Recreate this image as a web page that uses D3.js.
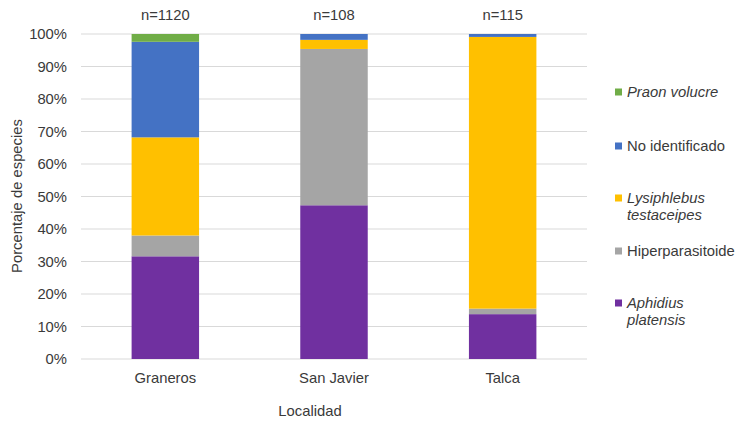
<!DOCTYPE html>
<html>
<head>
<meta charset="utf-8">
<script src="https://cdn.jsdelivr.net/npm/d3@7"></script>
<style>
body { margin: 0; background: #fff; }
text { font-family: "Liberation Sans", Arial, sans-serif; fill: #3a3a3a; }
</style>
</head>
<body>
<div id="chart"></div>
<script>
(function(){
    var width = 738, height = 421;
    var fs = 14.8;

    // data (percent per site)
    var sites = ["Graneros", "San Javier", "Talca"];
    var nLabels = ["n=1120", "n=108", "n=115"];
    var species = ["Aphidius platensis", "Hiperparasitoide", "Lysiphlebus testaceipes", "No identificado", "Praon volucre"];
    var aphidius = [31.6, 47.3, 13.8];
    var hiper = [6.4, 48.1, 1.7];
    var lysiphlebus = [30.2, 2.8, 83.6];
    var noIdent = [29.4, 1.8, 0.9];
    var praon = [2.4, 0, 0];
    var yTicks = [0, 10, 20, 30, 40, 50, 60, 70, 80, 90, 100];
    var colors = ["#7030A0", "#A5A5A5", "#FFC000", "#4472C4", "#70AD47"];

    var rows = sites.map(function(s, i){
        return { site: s, a: aphidius[i], h: hiper[i], l: lysiphlebus[i], n: noIdent[i], p: praon[i] };
    });
    var keys = ["a", "h", "l", "n", "p"];

    var svg = d3.select("#chart").append("svg")
        .attr("width", width)
        .attr("height", height);

    var x = d3.scaleBand().domain(sites).range([81, 587]).paddingInner(0.6).paddingOuter(0.3);
    var y = d3.scaleLinear().domain([0, 100]).range([359, 34]);

    // gridlines
    svg.append("g").selectAll("line")
        .data(yTicks)
        .enter().append("line")
        .attr("x1", 81).attr("x2", 587)
        .attr("y1", function(d){ return y(d); })
        .attr("y2", function(d){ return y(d); })
        .attr("stroke", "#d9d9d9")
        .attr("stroke-width", 1);

    // y tick labels
    svg.append("g").selectAll("text")
        .data(yTicks)
        .enter().append("text")
        .attr("x", 67)
        .attr("y", function(d){ return y(d); })
        .attr("dy", "0.35em")
        .attr("text-anchor", "end")
        .attr("font-size", fs)
        .text(function(d){ return d + "%"; });

    var stack = d3.stack().keys(keys)(rows);

    svg.append("g").selectAll("g")
        .data(stack)
        .enter().append("g")
        .attr("fill", function(d, i){ return colors[i]; })
        .selectAll("rect")
        .data(function(d){ return d; })
        .enter().append("rect")
        .attr("x", function(d){ return x(d.data.site); })
        .attr("width", x.bandwidth())
        .attr("y", function(d){ return y(d[1]); })
        .attr("height", function(d){ return y(d[0]) - y(d[1]); });

    // n labels
    svg.append("g").selectAll("text")
        .data(sites)
        .enter().append("text")
        .attr("x", function(d){ return x(d) + x.bandwidth()/2; })
        .attr("y", 15)
        .attr("dy", "0.35em")
        .attr("text-anchor", "middle")
        .attr("font-size", fs)
        .text(function(d, i){ return nLabels[i]; });

    // category labels
    svg.append("g").selectAll("text")
        .data(sites)
        .enter().append("text")
        .attr("x", function(d){ return x(d) + x.bandwidth()/2; })
        .attr("y", 378)
        .attr("dy", "0.35em")
        .attr("text-anchor", "middle")
        .attr("font-size", fs)
        .text(function(d){ return d; });

    svg.append("text")
        .attr("x", 310).attr("y", 411)
        .attr("dy", "0.35em")
        .attr("text-anchor", "middle")
        .attr("font-size", fs)
        .text("Localidad");

    svg.append("text")
        .attr("transform", "translate(17,196) rotate(-90)")
        .attr("dy", "0.35em")
        .attr("text-anchor", "middle")
        .attr("font-size", fs)
        .text("Porcentaje de especies");

    // legend, top to bottom
    var legend = [
        { i: 4, lines: ["Praon volucre"], italic: true, y: 92 },
        { i: 3, lines: ["No identificado"], italic: false, y: 146 },
        { i: 2, lines: ["Lysiphlebus", "testaceipes"], italic: true, y: 198 },
        { i: 1, lines: ["Hiperparasitoide"], italic: false, y: 251 },
        { i: 0, lines: ["Aphidius", "platensis"], italic: true, y: 303 }
    ];
    var lg = svg.append("g").selectAll("g")
        .data(legend)
        .enter().append("g")
        .attr("transform", function(d){ return "translate(615," + d.y + ")"; });
    lg.append("rect")
        .attr("x", 0).attr("y", -3.5)
        .attr("width", 7).attr("height", 7)
        .attr("fill", function(d){ return colors[d.i]; });
    lg.each(function(d){
        var t = d3.select(this).append("text")
            .attr("font-size", fs)
            .attr("font-style", d.italic ? "italic" : "normal");
        d.lines.forEach(function(l, k){
            t.append("tspan").attr("x", 12).attr("y", k * 17).attr("dy", "0.35em").text(l);
        });
    });
})();
</script>
</body>
</html>
